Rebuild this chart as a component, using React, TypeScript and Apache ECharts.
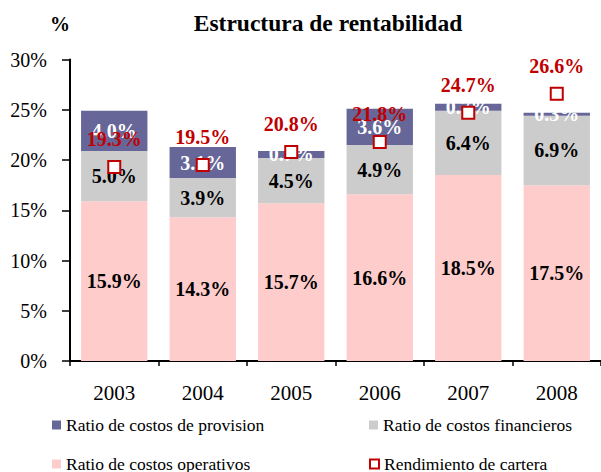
import React, { useEffect, useRef } from "react";
import * as echarts from "echarts";

const categories = ["2003", "2004", "2005", "2006", "2007", "2008"];
const provision = [4.0, 3.1, 0.7, 3.6, 0.7, 0.3];
const financieros = [5.0, 3.9, 4.5, 4.9, 6.4, 6.9];
const operativos = [15.9, 14.3, 15.7, 16.6, 18.5, 17.5];
const rendimiento = [19.3, 19.5, 20.8, 21.8, 24.7, 26.6];

const FONT = "'Liberation Serif', 'Times New Roman', serif";
const RED = "#C00000";

export default function App() {
  const ref = useRef<HTMLDivElement>(null);
  useEffect(() => {
    document.body.style.margin = "0";
    if (!ref.current) return;
    const chart = echarts.init(ref.current, null, { renderer: "svg" });
    const barLabel = (color: string) => ({
      show: true,
      position: "inside" as const,
      formatter: (p: any) => Number(p.value).toFixed(1) + "%",
      color,
      fontFamily: FONT,
      fontWeight: "bold" as const,
      fontSize: 20,
    });
    const legendBase = {
      orient: "horizontal" as const,
      padding: 0,
      itemWidth: 9,
      itemHeight: 9,
      textStyle: { fontFamily: FONT, fontSize: 17.5, color: "#000" },
    };
    chart.setOption({
      animation: false,
      textStyle: { fontFamily: FONT },
      title: {
        text: "Estructura de rentabilidad",
        left: 328,
        top: 11,
        textAlign: "center",
        padding: 0,
        textStyle: { fontFamily: FONT, fontWeight: "bold", fontSize: 23.5, color: "#000" },
      },
      graphic: [
        {
          type: "text",
          x: 60,
          y: 24,
          style: {
            text: "%",
            fontFamily: FONT,
            fontWeight: "bold",
            fontSize: 20,
            fill: "#000",
            textAlign: "center",
            textVerticalAlign: "middle",
          },
        },
      ],
      legend: [
        { ...legendBase, left: 52, top: 416, data: [{ name: "Ratio de costos de provision", icon: "rect" }] },
        { ...legendBase, left: 369, top: 416, data: [{ name: "Ratio de costos financieros", icon: "rect" }] },
        { ...legendBase, left: 52, top: 455, data: [{ name: "Ratio de costos operativos", icon: "rect" }] },
        {
          ...legendBase,
          left: 369,
          top: 455,
          data: [
            {
              name: "Rendimiento de cartera",
              icon: "rect",
              itemStyle: { color: "#fff", borderColor: RED, borderWidth: 2 },
            },
          ],
        },
      ],
      grid: { left: 70, top: 59.5, width: 534, height: 301.5 },
      xAxis: {
        type: "category",
        data: categories,
        axisLine: { lineStyle: { color: "#000", width: 2 } },
        axisTick: { show: true, length: 5, lineStyle: { color: "#000", width: 1.5 } },
        axisLabel: { color: "#000", fontFamily: FONT, fontSize: 21, margin: 21 },
      },
      yAxis: {
        type: "value",
        min: 0,
        max: 30,
        interval: 5,
        splitLine: { show: false },
        axisLine: { show: true, lineStyle: { color: "#000", width: 2 } },
        axisTick: { show: true, length: 8, lineStyle: { color: "#000", width: 1.5 } },
        axisLabel: { color: "#000", fontFamily: FONT, fontSize: 20, margin: 23, formatter: "{value}%" },
      },
      series: [
        {
          name: "Ratio de costos operativos",
          type: "bar",
          stack: "total",
          data: operativos,
          barCategoryGap: "25%",
          itemStyle: { color: "#FFCCCC" },
          label: barLabel("#000"),
        },
        {
          name: "Ratio de costos financieros",
          type: "bar",
          stack: "total",
          data: financieros,
          itemStyle: { color: "#CCCCCC" },
          label: barLabel("#000"),
        },
        {
          name: "Ratio de costos de provision",
          type: "bar",
          stack: "total",
          data: provision,
          itemStyle: { color: "#666699" },
          label: barLabel("#fff"),
        },
        {
          name: "Rendimiento de cartera",
          type: "line",
          data: rendimiento,
          symbol: "rect",
          symbolSize: 12,
          lineStyle: { width: 0, opacity: 0 },
          itemStyle: { color: "#fff", borderColor: RED, borderWidth: 2 },
          z: 5,
          label: {
            show: true,
            position: "top",
            distance: 11,
            formatter: (p: any) => Number(p.value).toFixed(1) + "%",
            color: RED,
            fontFamily: FONT,
            fontWeight: "bold",
            fontSize: 20,
          },
        },
      ],
    });
    return () => chart.dispose();
  }, []);
  return <div ref={ref} style={{ width: 601, height: 472 }} />;
}
